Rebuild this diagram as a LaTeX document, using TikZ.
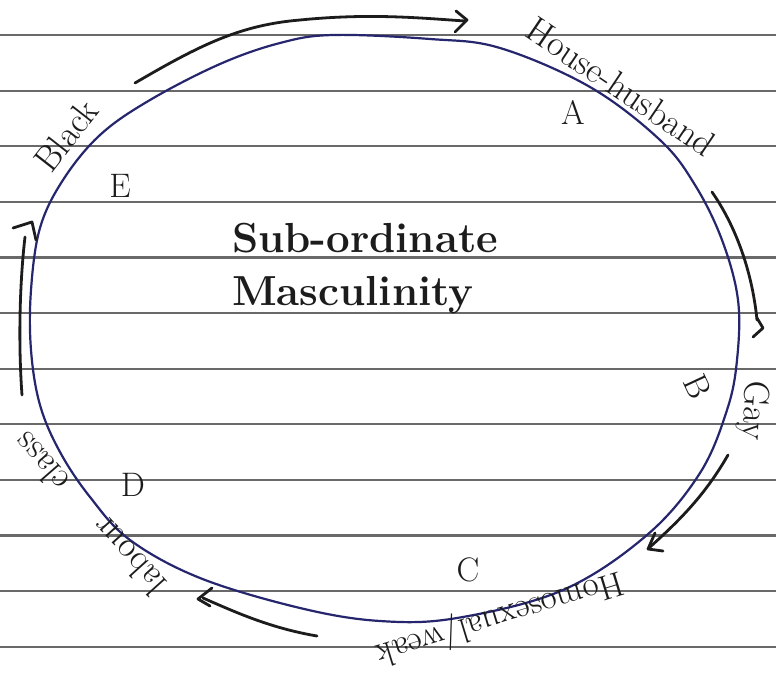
\documentclass[tikz,border=0pt]{standalone}
\definecolor{ink}{RGB}{28,28,28}
\definecolor{pen}{RGB}{38,38,110}
\definecolor{rulec}{RGB}{105,105,105}
\begin{document}
\begin{tikzpicture}[x=0.5pt,y=-0.5pt,
  ruleline/.style={draw=rulec, line width=1.1pt},
  ring/.style={draw=pen, line width=1.1pt},
  stroke/.style={draw=ink, line width=1.4pt, line cap=round, line join=round},
  lbl/.style={text=ink, font=\fontsize{17}{19}\selectfont},
  title/.style={text=ink, anchor=base west, font=\bfseries\fontsize{21}{24}\selectfont},
  side/.style={text=ink, anchor=base, inner sep=0pt, font=\fontsize{18}{20}\selectfont}
]
\useasboundingbox (0,0) rectangle (776,675);
\fill[white] (0,0) rectangle (776,675);
% ruled paper
\foreach \k in {0,...,11}
  \draw[ruleline] (0,{35+55.6*\k}) -- (776,{35+55.6*\k});
% the circle
\draw[ring] plot[smooth cycle, tension=0.6] coordinates {
 (333,35) (430,39) (500,48) (590,87) (660,140) (695,185) (722,240) (738,300)
 (737,360) (727,410) (700,473) (647,535) (563,590) (457,618) (380,621) (300,608)
 (200,578) (130,540) (90,497) (60,452) (40,405) (31,350) (31,290) (40,228)
 (63,180) (100,135) (150,100) (220,64) (280,43)};
% central title
\node[title] (t1) at (225,252) {Sub-ordinate};
\node[title] (t2) at (225,305) {Masculinity};
% letters
\node[lbl] (A) at (573,112) {A};
\node[lbl, rotate=-65] (B) at (698,387) {B};
\node[lbl] (C) at (468,570) {C};
\node[lbl] (D) at (133,485) {D};
\node[lbl] (E) at (120,186) {E};
% arrows
\draw[stroke] (135,83) .. controls (200,45) and (240,25) .. (300,20) .. controls (370,13) and (420,18) .. (465,21);
\draw[stroke] (456,11) -- (467,20) -- (455,32);
\draw[stroke] (712,192) .. controls (735,225) and (752,270) .. (757,320);
\draw[stroke] (757,318) -- (763,328) -- (753,337);
\draw[stroke] (728,455) .. controls (705,495) and (680,520) .. (650,547);
\draw[stroke] (655,533) -- (648,549) -- (663,551);
\draw[stroke] (317,636) .. controls (270,628) and (235,612) .. (203,598);
\draw[stroke] (212,588) -- (198,599) -- (210,606);
\draw[stroke] (22,395) .. controls (18,340) and (20,280) .. (25,237);
\draw[stroke] (13,228) -- (32,222) -- (36,240);
% labels along the circle
\node[side, rotate=-34] (hh) at (614,97) {House-husband};
\node[side, rotate=-93] (gay) at (744,410) {Gay};
\node[side, rotate=197, font=\fontsize{17.5}{20}\selectfont] (hw) at (497,609) {Homosexual/weak};
\node[side, rotate=132] (lab) at (138,548) {labour};
\node[side, rotate=131] (cls) at (50,455) {class};
\node[side, rotate=52] (blk) at (76,143) {Black};
\end{tikzpicture}
\end{document}
